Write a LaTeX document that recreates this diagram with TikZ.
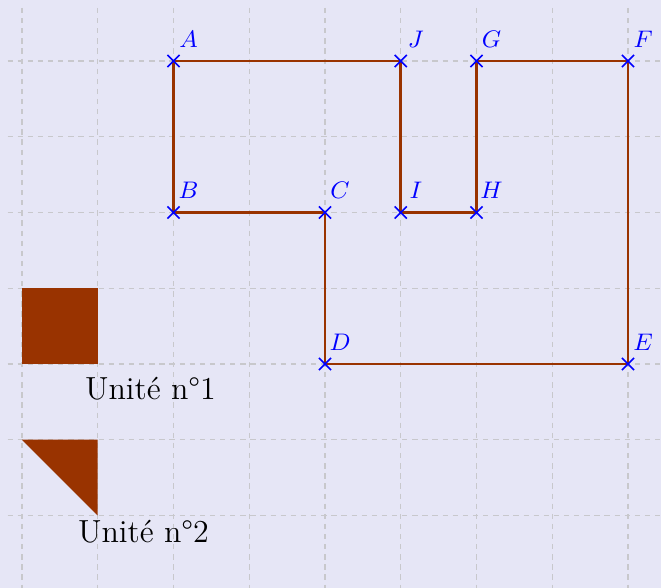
\documentclass[tikz,border=0pt]{standalone}
\usepackage{textcomp}
\usetikzlibrary{calc}
\definecolor{bgc}{RGB}{230,230,246}
\definecolor{brn}{RGB}{153,51,0}
\definecolor{gridc}{RGB}{200,200,204}
\begin{document}
\begin{tikzpicture}[
  gridline/.style={gridc, line width=0.5pt, dash pattern=on 2pt off 1.8pt},
  contour/.style={brn, line width=1pt, line join=miter},
  ptlabel/.style={blue, font=\fontsize{9}{10}\selectfont, inner sep=0pt},
  unitlabel/.style={black, font=\fontsize{12}{14}\selectfont, anchor=base, inner sep=0pt},
  crossmark/.style={blue, line width=0.6pt}
]
\useasboundingbox (-0.29,-0.957) rectangle (8.436,6.805);
\fill[bgc] (-0.29,-0.957) rectangle (8.436,6.805);
% grid
\foreach \x in {0,...,8} \draw[gridline] (\x,6.7) -- (\x,-0.957);
\foreach \y in {0,...,6} \draw[gridline] (-0.19,\y) -- (8.436,\y);
% points
\coordinate (A) at (2,6);
\coordinate (B) at (2,4);
\coordinate (C) at (4,4);
\coordinate (D) at (4,2);
\coordinate (E) at (8,2);
\coordinate (F) at (8,6);
\coordinate (G) at (6,6);
\coordinate (H) at (6,4);
\coordinate (I) at (5,4);
\coordinate (J) at (5,6);
% contour
\draw[contour] (A) -- (B) -- (C) -- (D) -- (E) -- (F) -- (G) -- (H) -- (I) -- (J) -- cycle;
% crosses and labels
\foreach \p in {A,B,C,D,E,F,G,H,I,J}{
  \draw[crossmark] ($(\p)+(-0.08,-0.08)$) -- ($(\p)+(0.08,0.08)$);
  \draw[crossmark] ($(\p)+(-0.08,0.08)$) -- ($(\p)+(0.08,-0.08)$);
  \node[ptlabel] (lab\p) at ($(\p)+(0.2,0.29)$) {$\p$};
}
% units
\fill[brn] (0,2) rectangle (1,3);
\node[unitlabel] (u1) at (1.696,1.525) {Unité n\textdegree1};
\fill[brn] (0,1) -- (1,1) -- (1,0) -- cycle;
\node[unitlabel] (u2) at (1.604,-0.363) {Unité n\textdegree2};
\end{tikzpicture}
\end{document}
